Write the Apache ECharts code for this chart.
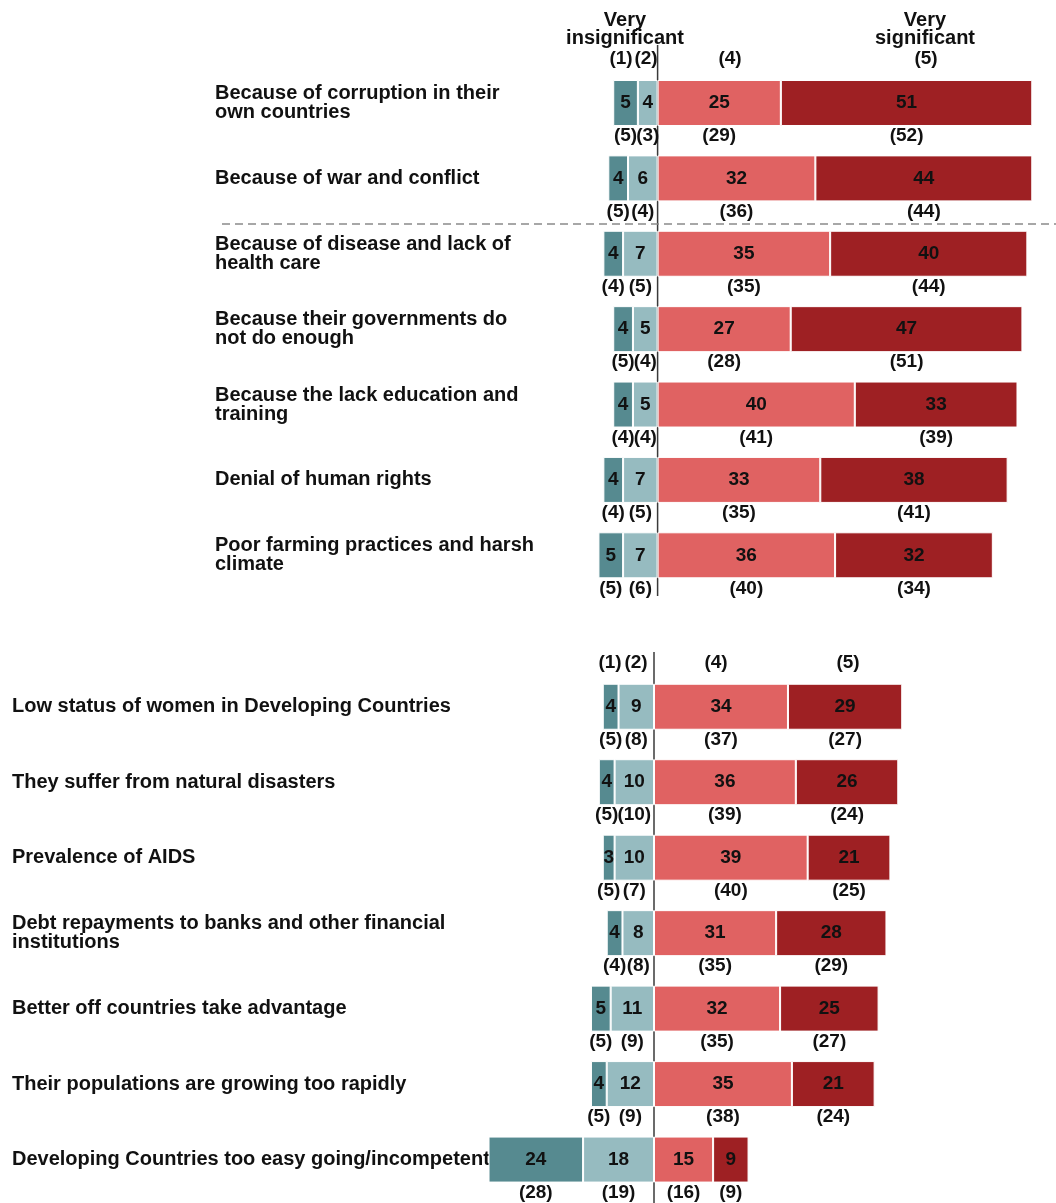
<!DOCTYPE html>
<html><head><meta charset="utf-8">
<script src="https://cdn.jsdelivr.net/npm/echarts@6/dist/echarts.min.js"></script>
<style>html,body{margin:0;padding:0;background:#fff}#c{width:1056px;height:1203px}</style>
</head><body><div id="c"></div>
<script>
// ---------- DATA ----------
const topCategories = [
  "Because of corruption in their\nown countries",
  "Because of war and conflict",
  "Because of disease and lack of\nhealth care",
  "Because their governments do\nnot do enough",
  "Because the lack education and\ntraining",
  "Denial of human rights",
  "Poor farming practices and harsh\nclimate"
];
const topV1 = [5, 4, 4, 4, 4, 4, 5];
const topV2 = [4, 6, 7, 5, 5, 7, 7];
const topV4 = [25, 32, 35, 27, 40, 33, 36];
const topV5 = [51, 44, 40, 47, 33, 38, 32];
const topP1 = [5, 5, 4, 5, 4, 4, 5];
const topP2 = [3, 4, 5, 4, 4, 5, 6];
const topP4 = [29, 36, 35, 28, 41, 35, 40];
const topP5 = [52, 44, 44, 51, 39, 41, 34];

const botCategories = [
  "Low status of women in Developing Countries",
  "They suffer from natural disasters",
  "Prevalence of AIDS",
  "Debt repayments to banks and other financial\ninstitutions",
  "Better off countries take advantage",
  "Their populations are growing too rapidly",
  "Developing Countries too easy going/incompetent"
];
const botV1 = [4, 4, 3, 4, 5, 4, 24];
const botV2 = [9, 10, 10, 8, 11, 12, 18];
const botV4 = [34, 36, 39, 31, 32, 35, 15];
const botV5 = [29, 26, 21, 28, 25, 21, 9];
const botP1 = [5, 5, 5, 4, 5, 5, 28];
const botP2 = [8, 10, 7, 8, 9, 9, 19];
const botP4 = [37, 39, 40, 35, 35, 38, 16];
const botP5 = [27, 24, 25, 29, 27, 24, 9];

const headerLabels = ["(1)", "(2)", "(4)", "(5)"];
const scaleTitles = ["Very\ninsignificant", "Very\nsignificant"];

// ---------- STYLE ----------
const C1 = '#568a90', C2 = '#96bbc0', C4 = '#e06262', C5 = '#9e2023';
const FONT = '"Liberation Sans", Arial, sans-serif';
const NUM_FONT = 'bold 19px ' + FONT;

const chart = echarts.init(document.getElementById('c'), null, {renderer: 'canvas'});

function barSeries(idx, stack, vals, color, neg) {
  return {
    type: 'bar', xAxisIndex: idx, yAxisIndex: idx, stack: stack,
    data: vals.map(v => neg ? -v : v),
    barWidth: 46,
    itemStyle: {color: color, borderColor: '#ffffff', borderWidth: 1},
    label: {
      show: true, position: 'inside', color: '#111',
      fontFamily: FONT, fontWeight: 'bold', fontSize: 19,
      formatter: p => Math.abs(p.value)
    },
    emphasis: {disabled: true},
    animation: false
  };
}

function prevSeries(idx, v1, v2, v4, v5, p1, p2, p4, p5) {
  const data = v1.map((_, i) => [i, v1[i], v2[i], v4[i], v5[i], p1[i], p2[i], p4[i], p5[i]]);
  return {
    type: 'custom', xAxisIndex: idx, yAxisIndex: idx,
    encode: {x: 1, y: 0}, silent: true, animation: false, clip: false,
    data: data,
    renderItem: function (params, api) {
      const cat = api.value(0);
      const a = api.value(1), b = api.value(2), c = api.value(3), d = api.value(4);
      const centers = [-(b + a / 2), -(b / 2), c / 2, c + d / 2];
      const prev = [api.value(5), api.value(6), api.value(7), api.value(8)];
      const children = centers.map((cx, k) => {
        const pt = api.coord([cx, cat]);
        return {
          type: 'text',
          style: {
            text: '(' + prev[k] + ')', x: pt[0], y: pt[1] + 33,
            align: 'center', verticalAlign: 'middle',
            font: NUM_FONT, fill: '#111'
          }
        };
      });
      return {type: 'group', children: children};
    }
  };
}

function yAxisCfg(idx, cats, margin) {
  return {
    type: 'category', gridIndex: idx, data: cats, inverse: true,
    axisLine: {show: false}, axisTick: {show: false},
    axisLabel: {
      align: 'left', margin: margin, color: '#111',
      fontFamily: FONT, fontWeight: 'bold', fontSize: 20, lineHeight: 19,
      padding: [0, 0, 5, 0]
    }
  };
}

const option = {
  backgroundColor: '#ffffff',
  animation: false,
  grid: [
    {left: 559, width: 493, top: 65.3, height: 527.7},
    {left: 457, width: 591, top: 669, height: 528.3}
  ],
  xAxis: [
    {type: 'value', gridIndex: 0, min: -20, max: 80, show: false, splitLine: {show: false}},
    {type: 'value', gridIndex: 1, min: -50, max: 100, show: false, splitLine: {show: false}}
  ],
  yAxis: [
    yAxisCfg(0, topCategories, 344),
    yAxisCfg(1, botCategories, 445)
  ],
  series: [
    barSeries(0, 'top', topV2, C2, true),
    barSeries(0, 'top', topV1, C1, true),
    barSeries(0, 'top', topV4, C4, false),
    barSeries(0, 'top', topV5, C5, false),
    prevSeries(0, topV1, topV2, topV4, topV5, topP1, topP2, topP4, topP5),
    barSeries(1, 'bot', botV2, C2, true),
    barSeries(1, 'bot', botV1, C1, true),
    barSeries(1, 'bot', botV4, C4, false),
    barSeries(1, 'bot', botV5, C5, false),
    prevSeries(1, botV1, botV2, botV4, botV5, botP1, botP2, botP4, botP5)
  ]
};
chart.setOption(option);

// ---------- annotations (zero lines, headers, divider) ----------
const x0t = chart.convertToPixel({xAxisIndex: 0}, 0);
const x0b = chart.convertToPixel({xAxisIndex: 1}, 0);
const txt = (text, x, y) => ({
  type: 'text', silent: true,
  style: {text: text, x: x, y: y, align: 'center', verticalAlign: 'middle',
          font: 'bold 20px ' + FONT, fill: '#111', lineHeight: 18}
});
const hdr = (text, x, y) => ({
  type: 'text', silent: true,
  style: {text: text, x: x, y: y, align: 'center', verticalAlign: 'middle',
          font: NUM_FONT, fill: '#111'}
});
chart.setOption({
  graphic: [
    {type: 'line', silent: true, shape: {x1: x0t, y1: 45, x2: x0t, y2: 596},
     style: {stroke: '#3a3a3a', lineWidth: 1.5}},
    {type: 'line', silent: true, shape: {x1: x0b, y1: 652, x2: x0b, y2: 1203},
     style: {stroke: '#3a3a3a', lineWidth: 1.5}},
    {type: 'line', silent: true, shape: {x1: 222, y1: 224, x2: 1056, y2: 224},
     style: {stroke: '#8a8a8a', lineWidth: 1.3, lineDash: [8, 5]}},
    txt(scaleTitles[0], 625, 29),
    txt(scaleTitles[1], 925, 29),
    hdr(headerLabels[0], 621, 59),
    hdr(headerLabels[1], 646, 59),
    hdr(headerLabels[2], 730, 59),
    hdr(headerLabels[3], 926, 59),
    hdr(headerLabels[0], 610, 663),
    hdr(headerLabels[1], 636, 663),
    hdr(headerLabels[2], 716, 663),
    hdr(headerLabels[3], 848, 663)
  ]
});
</script></body></html>
